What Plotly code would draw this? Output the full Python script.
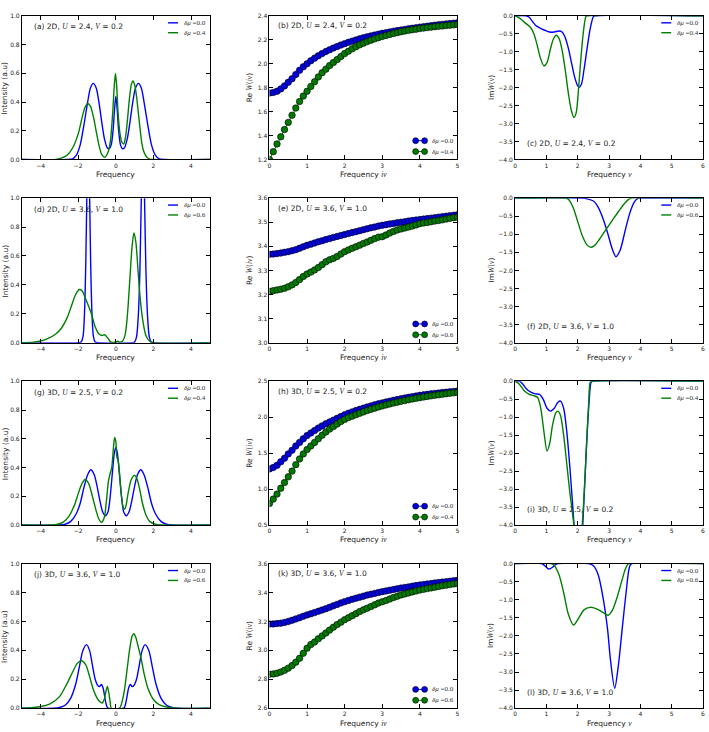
import plotly.graph_objects as go

W, H = 709, 732

# ---------------- Column 1: spectral functions (Intensity vs Frequency) ----------------
a_blue_x = [-5, -2.6, -2.3, -2.1, -1.9, -1.7, -1.5, -1.35, -1.2, -1.05, -0.9, -0.75, -0.6, -0.45, -0.35, -0.25, -0.15, -0.07, 0.0,
            0.07, 0.15, 0.25, 0.35, 0.45, 0.6, 0.75, 0.9, 1.05, 1.2, 1.35, 1.5, 1.7, 1.9, 2.1, 2.3, 2.6, 5]
a_blue_y = [0, 0, 0.005, 0.03, 0.1, 0.24, 0.4, 0.5, 0.53, 0.5, 0.4, 0.26, 0.14, 0.08, 0.075, 0.1, 0.2, 0.35, 0.44,
            0.35, 0.2, 0.1, 0.075, 0.08, 0.14, 0.26, 0.4, 0.5, 0.53, 0.5, 0.4, 0.24, 0.1, 0.03, 0.005, 0, 0]
a_green_x = [-5, -3.2, -2.9, -2.6, -2.3, -2.0, -1.8, -1.65, -1.5, -1.35, -1.2, -1.05, -0.9, -0.75, -0.6, -0.45, -0.3, -0.18, -0.08,
             -0.02, 0.04, 0.12, 0.22, 0.32, 0.42, 0.52, 0.62, 0.72, 0.82, 0.91, 1.0, 1.1, 1.2, 1.3, 1.4, 1.5, 1.65, 1.8, 2.0, 5]
a_green_y = [0, 0, 0.01, 0.03, 0.08, 0.18, 0.29, 0.36, 0.39, 0.37, 0.3, 0.2, 0.1, 0.035, 0.015, 0.04, 0.12, 0.3, 0.52,
             0.6, 0.52, 0.32, 0.18, 0.12, 0.108, 0.16, 0.28, 0.42, 0.52, 0.547, 0.52, 0.44, 0.32, 0.2, 0.1, 0.05, 0.015, 0.003, 0, 0]

d_blue_x = [-5, -2.0, -1.85, -1.75, -1.67, -1.6, -1.54, -1.47, -1.4, -1.34, -1.27, -1.19, -1.1, -0.9,
            0.9, 1.0, 1.1, 1.2, 1.28, 1.34, 1.44, 1.54, 1.6, 1.68, 1.78, 1.88, 2.0, 5]
d_blue_y = [0, 0, 0.005, 0.04, 0.2, 0.55, 1.05, 1.5, 1.05, 0.55, 0.2, 0.04, 0.005, 0,
            0, 0.005, 0.04, 0.2, 0.5, 0.9, 1.5, 0.9, 0.5, 0.2, 0.04, 0.005, 0, 0]
d_green_x = [-5, -4.4, -4.0, -3.6, -3.2, -2.9, -2.6, -2.35, -2.15, -1.95, -1.8, -1.6, -1.3, -1.1, -0.9, -0.75, -0.6, -0.45,
             -0.3, -0.15, 0.0, 0.1, 0.2, 0.35, 0.5, 0.62, 0.75, 0.86, 0.96, 1.06, 1.18, 1.3, 1.45, 1.6, 1.8, 2.0, 5]
d_green_y = [0, 0.003, 0.012, 0.03, 0.06, 0.1, 0.17, 0.26, 0.33, 0.368, 0.36, 0.3, 0.2, 0.11, 0.06, 0.05, 0.055, 0.035,
             0.008, 0.002, 0.005, 0.01, 0.004, 0.01, 0.06, 0.2, 0.45, 0.66, 0.76, 0.7, 0.5, 0.3, 0.14, 0.05, 0.01, 0, 0]

g_blue_x = [-5, -3.0, -2.7, -2.4, -2.1, -1.9, -1.7, -1.5, -1.33, -1.15, -1.0, -0.85, -0.7, -0.56, -0.42, -0.3, -0.18, -0.08, 0.0,
            0.08, 0.18, 0.3, 0.42, 0.56, 0.7, 0.85, 1.0, 1.15, 1.33, 1.5, 1.7, 1.9, 2.1, 2.4, 2.7, 3.0, 5]
g_blue_y = [0, 0, 0.005, 0.025, 0.08, 0.15, 0.26, 0.35, 0.385, 0.35, 0.27, 0.17, 0.09, 0.064, 0.09, 0.2, 0.37, 0.5, 0.54,
            0.5, 0.37, 0.2, 0.09, 0.064, 0.09, 0.17, 0.27, 0.35, 0.385, 0.35, 0.26, 0.15, 0.08, 0.025, 0.005, 0, 0]
g_green_x = [-5, -3.4, -3.1, -2.8, -2.5, -2.2, -2.0, -1.8, -1.64, -1.45, -1.25, -1.05, -0.9, -0.76, -0.62, -0.5, -0.4, -0.32, -0.22,
             -0.12, -0.06, 0.0, 0.06, 0.12, 0.2, 0.3, 0.4, 0.47, 0.55, 0.65, 0.8, 0.92, 1.0, 1.1, 1.25, 1.4, 1.6, 1.8, 2.1, 2.4, 5]
g_green_y = [0, 0, 0.005, 0.02, 0.06, 0.14, 0.22, 0.29, 0.317, 0.29, 0.2, 0.1, 0.04, 0.018, 0.05, 0.17, 0.3, 0.35, 0.4,
             0.55, 0.61, 0.58, 0.47, 0.45, 0.35, 0.2, 0.12, 0.11, 0.14, 0.22, 0.31, 0.34, 0.345, 0.33, 0.26, 0.16, 0.07, 0.025, 0.005, 0, 0]

j_blue_x = [-5, -3.3, -3.0, -2.7, -2.4, -2.15, -1.95, -1.75, -1.56, -1.4, -1.25, -1.1, -0.95, -0.87, -0.77, -0.68, -0.58, -0.5, -0.42,
            0.42, 0.5, 0.58, 0.68, 0.77, 0.87, 0.95, 1.1, 1.25, 1.4, 1.56, 1.75, 1.95, 2.15, 2.4, 2.7, 3.0, 3.3, 5]
j_blue_y = [0, 0, 0.005, 0.02, 0.07, 0.16, 0.28, 0.4, 0.44, 0.4, 0.3, 0.2, 0.155, 0.15, 0.164, 0.14, 0.07, 0.02, 0.0,
            0.0, 0.02, 0.07, 0.14, 0.164, 0.15, 0.155, 0.2, 0.3, 0.4, 0.44, 0.4, 0.28, 0.16, 0.07, 0.02, 0.005, 0, 0]
j_green_x = [-5, -4.5, -4.0, -3.5, -3.0, -2.6, -2.3, -2.05, -1.83, -1.6, -1.4, -1.2, -1.0, -0.85, -0.73, -0.62, -0.52, -0.45, -0.38,
             -0.3, -0.24, 0.2, 0.3, 0.45, 0.6, 0.75, 0.87, 0.96, 1.06, 1.2, 1.35, 1.5, 1.7, 2.0, 2.3, 2.7, 3.2, 5]
j_green_y = [0, 0.003, 0.012, 0.03, 0.08, 0.17, 0.25, 0.31, 0.328, 0.3, 0.22, 0.13, 0.07, 0.045, 0.036, 0.06, 0.12, 0.15, 0.11,
             0.04, 0.0, 0.0, 0.03, 0.12, 0.27, 0.42, 0.5, 0.515, 0.49, 0.42, 0.34, 0.24, 0.14, 0.06, 0.025, 0.008, 0, 0]

# ---------------- Column 2: Re W(i nu) on Matsubara frequencies ----------------
nu_m = [0.0, 0.1, 0.2, 0.3, 0.4, 0.5, 0.6, 0.7, 0.8, 0.9, 1.0, 1.1, 1.2, 1.3, 1.4, 1.5, 1.6, 1.7, 1.8, 1.9,
        2.0, 2.1, 2.2, 2.3, 2.4, 2.5, 2.6, 2.7, 2.8, 2.9, 3.0, 3.1, 3.2, 3.3, 3.4, 3.5, 3.6, 3.7, 3.8, 3.9,
        4.0, 4.1, 4.2, 4.3, 4.4, 4.5, 4.6, 4.7, 4.8, 4.9, 5.0]

b_blue = [1.755, 1.76, 1.77, 1.79, 1.815, 1.845, 1.875, 1.91, 1.945, 1.975, 2.0,
          2.025, 2.047, 2.067, 2.085, 2.102, 2.117, 2.131, 2.144, 2.156, 2.168,
          2.179, 2.189, 2.199, 2.208, 2.217, 2.225, 2.233, 2.24, 2.247, 2.254,
          2.26, 2.266, 2.272, 2.277, 2.282, 2.287, 2.292, 2.297, 2.301, 2.306,
          2.31, 2.314, 2.318, 2.322, 2.326, 2.329, 2.333, 2.336, 2.339, 2.342]
b_green = [1.2, 1.265, 1.33, 1.39, 1.45, 1.51, 1.57, 1.63, 1.685, 1.73, 1.77,
           1.81, 1.85, 1.89, 1.925, 1.955, 1.985, 2.01, 2.035, 2.06, 2.085,
           2.105, 2.125, 2.142, 2.158, 2.172, 2.185, 2.197, 2.208, 2.218, 2.228,
           2.237, 2.245, 2.253, 2.26, 2.267, 2.273, 2.279, 2.284, 2.289, 2.294,
           2.298, 2.302, 2.306, 2.31, 2.313, 2.316, 2.319, 2.322, 2.325, 2.328]

e_blue = [3.367, 3.368, 3.37, 3.372, 3.375, 3.378, 3.382, 3.386, 3.392, 3.398, 3.404,
          3.409, 3.414, 3.419, 3.423, 3.428, 3.432, 3.437, 3.441, 3.445, 3.449,
          3.453, 3.457, 3.461, 3.465, 3.469, 3.473, 3.477, 3.48, 3.484, 3.487,
          3.49, 3.493, 3.495, 3.498, 3.5, 3.502, 3.505, 3.507, 3.509, 3.511,
          3.513, 3.515, 3.517, 3.519, 3.521, 3.523, 3.525, 3.527, 3.529, 3.531]
e_green = [3.213, 3.216, 3.219, 3.222, 3.226, 3.232, 3.24, 3.25, 3.262, 3.275, 3.285,
           3.293, 3.302, 3.312, 3.324, 3.336, 3.344, 3.35, 3.358, 3.368, 3.378,
           3.385, 3.392, 3.398, 3.405, 3.412, 3.418, 3.425, 3.432, 3.438, 3.44,
           3.447, 3.455, 3.462, 3.468, 3.472, 3.476, 3.48, 3.484, 3.489, 3.494,
           3.497, 3.499, 3.502, 3.505, 3.507, 3.51, 3.513, 3.516, 3.519, 3.521]

h_blue = [1.28, 1.3, 1.33, 1.38, 1.43, 1.49, 1.54, 1.6, 1.65, 1.7, 1.745,
          1.78, 1.815, 1.85, 1.88, 1.91, 1.935, 1.96, 1.985, 2.01, 2.035,
          2.055, 2.075, 2.093, 2.11, 2.127, 2.143, 2.158, 2.173, 2.187, 2.2,
          2.212, 2.224, 2.236, 2.247, 2.258, 2.268, 2.278, 2.287, 2.296, 2.305,
          2.312, 2.319, 2.326, 2.332, 2.338, 2.344, 2.35, 2.355, 2.36, 2.365]
h_green = [0.8, 0.86, 0.93, 1.01, 1.09, 1.17, 1.25, 1.34, 1.42, 1.49, 1.55,
           1.6, 1.65, 1.7, 1.75, 1.795, 1.835, 1.87, 1.905, 1.94, 1.97,
           1.995, 2.015, 2.035, 2.055, 2.075, 2.093, 2.11, 2.127, 2.143, 2.158,
           2.172, 2.185, 2.198, 2.21, 2.222, 2.233, 2.244, 2.254, 2.264, 2.273,
           2.282, 2.29, 2.298, 2.306, 2.313, 2.32, 2.327, 2.334, 2.34, 2.346]

k_blue = [3.182, 3.183, 3.185, 3.188, 3.193, 3.2, 3.208, 3.217, 3.226, 3.236, 3.245,
          3.253, 3.261, 3.27, 3.279, 3.288, 3.298, 3.308, 3.318, 3.328, 3.337,
          3.345, 3.353, 3.361, 3.368, 3.375, 3.382, 3.388, 3.394, 3.4, 3.406,
          3.411, 3.416, 3.421, 3.426, 3.431, 3.435, 3.439, 3.444, 3.448, 3.452,
          3.455, 3.459, 3.462, 3.466, 3.469, 3.472, 3.475, 3.478, 3.481, 3.484]
k_green = [2.835, 2.837, 2.842, 2.85, 2.862, 2.877, 2.895, 2.918, 2.945, 2.98, 3.015,
           3.04, 3.058, 3.08, 3.1, 3.12, 3.14, 3.16, 3.178, 3.195, 3.212,
           3.226, 3.24, 3.254, 3.268, 3.28, 3.292, 3.303, 3.315, 3.327, 3.336,
           3.345, 3.355, 3.365, 3.374, 3.383, 3.39, 3.397, 3.404, 3.411, 3.417,
           3.422, 3.427, 3.432, 3.437, 3.442, 3.447, 3.451, 3.455, 3.459, 3.463]

# ---------------- Column 3: Im W(nu) on real frequencies ----------------
c_blue_x = [0, 0.35, 0.45, 0.55, 0.65, 0.8, 0.95, 1.1, 1.25, 1.4, 1.5, 1.6, 1.7, 1.8, 1.9, 2.0, 2.05, 2.12, 2.2, 2.3, 2.4, 2.5, 2.55, 6]
c_blue_y = [0, 0, -0.04, -0.15, -0.26, -0.34, -0.4, -0.45, -0.45, -0.42, -0.45, -0.6, -0.9, -1.3, -1.7, -1.95, -1.99, -1.9, -1.5, -0.9, -0.35, -0.02, 0, 0]
c_green_x = [0, 0.1, 0.2, 0.3, 0.4, 0.5, 0.6, 0.7, 0.8, 0.92, 1.02, 1.12, 1.22, 1.31, 1.4, 1.5, 1.6, 1.7, 1.8, 1.88, 1.95, 2.02, 2.1, 2.18, 2.26, 2.3, 6]
c_green_y = [0, -0.04, -0.1, -0.18, -0.25, -0.33, -0.5, -0.8, -1.15, -1.39, -1.3, -0.95, -0.65, -0.54, -0.62, -0.95, -1.5, -2.15, -2.65, -2.83, -2.7, -2.1, -1.2, -0.45, -0.02, 0, 0]

f_blue_x = [0, 2.1, 2.3, 2.5, 2.65, 2.8, 2.95, 3.1, 3.22, 3.35, 3.5, 3.65, 3.8, 3.92, 4.0, 6]
f_blue_y = [0, 0, -0.02, -0.08, -0.25, -0.55, -0.95, -1.4, -1.62, -1.45, -0.95, -0.45, -0.12, -0.01, 0, 0]
f_green_x = [0, 1.6, 1.7, 1.85, 2.0, 2.15, 2.3, 2.43, 2.55, 2.7, 2.9, 3.1, 3.3, 3.5, 3.65, 3.72, 6]
f_green_y = [0, 0, -0.03, -0.25, -0.65, -1.05, -1.3, -1.36, -1.3, -1.13, -0.87, -0.62, -0.37, -0.14, -0.02, 0, 0]

i_blue_x = [0, 0.15, 0.25, 0.35, 0.5, 0.65, 0.78, 0.9, 1.02, 1.13, 1.25, 1.37, 1.45, 1.55, 1.65, 1.75, 1.85, 1.95, 2.04,
            2.12, 2.2, 2.28, 2.36, 2.43, 2.48, 6]
i_blue_y = [0, 0, -0.08, -0.2, -0.3, -0.35, -0.36, -0.5, -0.75, -0.83, -0.75, -0.58, -0.55, -0.75, -1.4, -2.4, -3.6, -4.8, -5.3,
            -4.6, -3.3, -1.8, -0.6, -0.02, 0, 0]
i_green_x = [0, 0.1, 0.2, 0.3, 0.45, 0.6, 0.72, 0.82, 0.92, 1.02, 1.1, 1.2, 1.3, 1.37, 1.45, 1.55, 1.65, 1.75, 1.85, 1.95, 2.03,
             2.1, 2.2, 2.28, 2.35, 2.4, 2.45, 6]
i_green_y = [0, -0.05, -0.15, -0.27, -0.36, -0.4, -0.45, -0.75, -1.4, -1.94, -1.75, -1.2, -0.88, -0.83, -0.95, -1.5, -2.3, -3.1, -3.8, -4.6, -5.0,
             -4.5, -3.2, -1.8, -0.6, -0.02, 0, 0]

l_blue_x = [0, 0.85, 0.95, 1.08, 1.2, 1.3, 1.38, 2.35, 2.5, 2.65, 2.8, 2.95, 3.05, 3.18, 3.3, 3.42, 3.55, 3.65, 3.72, 6]
l_blue_y = [0, 0, -0.06, -0.15, -0.1, -0.02, 0, 0, -0.06, -0.3, -0.9, -1.8, -2.7, -3.45, -2.8, -1.8, -0.75, -0.1, 0, 0]
l_green_x = [0, 1.15, 1.25, 1.4, 1.55, 1.7, 1.87, 2.0, 2.2, 2.39, 2.6, 2.8, 2.97, 3.1, 3.25, 3.4, 3.52, 3.6, 3.65, 6]
l_green_y = [0, 0, -0.05, -0.3, -0.8, -1.4, -1.7, -1.55, -1.28, -1.21, -1.25, -1.35, -1.43, -1.3, -0.95, -0.5, -0.15, -0.02, 0, 0]

# ---------------- panel texts ----------------
panel_letters = [["a", "b", "c"], ["d", "e", "f"], ["g", "h", "i"], ["j", "k", "l"]]
row_dims = ["2D", "2D", "3D", "3D"]
row_U = ["2.4", "3.6", "2.5", "3.6"]
row_V = ["0.2", "1.0", "0.2", "1.0"]
row_dmu = [["0.0", "0.4"], ["0.0", "0.6"], ["0.0", "0.4"], ["0.0", "0.6"]]

spec = {"a": (a_blue_x, a_blue_y, a_green_x, a_green_y), "d": (d_blue_x, d_blue_y, d_green_x, d_green_y),
        "g": (g_blue_x, g_blue_y, g_green_x, g_green_y), "j": (j_blue_x, j_blue_y, j_green_x, j_green_y)}
rew = {"b": (b_blue, b_green, [1.2, 2.4], 0.2), "e": (e_blue, e_green, [3.0, 3.6], 0.1),
       "h": (h_blue, h_green, [0.5, 2.5], 0.5), "k": (k_blue, k_green, [2.6, 3.6], 0.2)}
imw = {"c": (c_blue_x, c_blue_y, c_green_x, c_green_y), "f": (f_blue_x, f_blue_y, f_green_x, f_green_y),
       "i": (i_blue_x, i_blue_y, i_green_x, i_green_y), "l": (l_blue_x, l_blue_y, l_green_x, l_green_y)}

BLUE = "#0000ff"
GREEN = "#008000"
MBLUE = "#0000e0"
MGREEN = "#007a00"

cols_px = [(20, 209), (269, 458), (516, 705)]
rows_px = [(12, 157), (196, 342), (381, 526), (565, 711)]


def M(s):
    return "<span style='font-family:Liberation Serif'><i>" + s + "</i></span>"


def px(x):
    return x / W


def py(y):
    return 1 - y / H


fig = go.Figure()
layout = dict(width=W, height=H, margin=dict(l=0, r=0, t=0, b=0),
              paper_bgcolor="white", plot_bgcolor="white", showlegend=False,
              font=dict(family="DejaVu Sans", size=6, color="#222222"))
annotations = []
shapes = []

n = 0
for r in range(4):
    for c in range(3):
        n += 1
        letter = panel_letters[r][c]
        xs = "" if n == 1 else str(n)
        xref, yref = "x" + xs, "y" + xs
        x0p, x1p = cols_px[c]
        y0p, y1p = rows_px[r]
        common = dict(ticks="inside", ticklen=4, tickwidth=0.8, tickcolor="black", mirror="allticks",
                      showline=True, linecolor="black", linewidth=1, showgrid=False, zeroline=False,
                      tickfont=dict(size=6, color="#222222"))
        if c == 0:
            xr, xdt, yr, ydt = [-5, 5], 2, [0, 1], 0.2
            bx, by, gx, gy = spec[letter]
        elif c == 1:
            bv, gv, yr, ydt = rew[letter]
            xr, xdt = [0, 5], 1
            bx, by, gx, gy = nu_m, bv, nu_m, gv
        else:
            xr, xdt, yr, ydt = [0, 6], 1, [-4, 0], 0.5
            bx, by, gx, gy = imw[letter]
        layout["xaxis" + xs] = dict(domain=[px(x0p), px(x1p)], anchor=yref, range=xr, dtick=xdt, tick0=0, **common)
        layout["yaxis" + xs] = dict(domain=[py(y1p), py(y0p)], anchor=xref, range=yr, dtick=ydt, tick0=yr[0],
                                    tickformat=".1f", **common)
        if c == 1:
            for yy, lc, mc in ((by, BLUE, MBLUE), (gy, GREEN, MGREEN)):
                fig.add_trace(go.Scatter(x=bx, y=yy, mode="lines+markers", xaxis=xref, yaxis=yref,
                                         line=dict(color=lc, width=1),
                                         marker=dict(size=6.5, color=mc, line=dict(color="black", width=0.6))))
        else:
            fig.add_trace(go.Scatter(x=bx, y=by, mode="lines", xaxis=xref, yaxis=yref,
                                     line=dict(color=BLUE, width=1.4, shape="spline", smoothing=0.8)))
            fig.add_trace(go.Scatter(x=gx, y=gy, mode="lines", xaxis=xref, yaxis=yref,
                                     line=dict(color=GREEN, width=1.4, shape="spline", smoothing=0.8)))

        # panel label
        label = "(" + letter + ") " + row_dims[r] + ", " + M("U") + " = " + row_U[r] + ", " + M("V") + " = " + row_V[r]
        if c == 0:
            lx, ly = 30, y0p + 11
        elif c == 1:
            lx, ly = 276, y0p + 10
        else:
            lx, ly = 526, y1p - 16
        annotations.append(dict(text=label, x=px(lx), y=py(ly), xref="paper", yref="paper", xanchor="left",
                                yanchor="middle", showarrow=False, font=dict(size=7.5, color="#222222")))

        # axis titles
        cx = (x0p + x1p) / 2
        cyy = (y0p + y1p) / 2
        if c == 0:
            xt, yt, ytx = "Frequency", "Intensity (a.u)", 3
        elif c == 1:
            xt, yt, ytx = "Frequency " + M("iν"), "Re " + M("W") + "(" + M("iν") + ")", 249
        else:
            xt, yt, ytx = "Frequency " + M("ν"), "Im" + M("W") + "(" + M("ν") + ")", 492
        annotations.append(dict(text=xt, x=px(cx), y=py(y1p + 15), xref="paper", yref="paper", xanchor="center",
                                yanchor="middle", showarrow=False, font=dict(size=7.5, color="#222222")))
        annotations.append(dict(text=yt, x=px(ytx), y=py(cyy), xref="paper", yref="paper", xanchor="center",
                                yanchor="middle", showarrow=False, textangle=-90, font=dict(size=7.5, color="#222222")))

        # legend (drawn in-panel)
        dm = row_dmu[r]
        if c == 1:
            ly1, ly2 = y1p - 19, y1p - 8
            for yy, mc, lc, val in ((ly1, MBLUE, BLUE, dm[0]), (ly2, MGREEN, GREEN, dm[1])):
                shapes.append(dict(type="line", xref="paper", yref="paper", x0=px(416), x1=px(425), y0=py(yy), y1=py(yy),
                                   line=dict(color=lc, width=1)))
                for mx in (416, 425):
                    shapes.append(dict(type="circle", xref="paper", yref="paper", x0=px(mx - 3), x1=px(mx + 3),
                                       y0=py(yy + 3), y1=py(yy - 3), fillcolor=mc, line=dict(color="black", width=0.6)))
                annotations.append(dict(text=M("δμ") + " =" + val, x=px(430), y=py(yy), xref="paper", yref="paper",
                                        xanchor="left", yanchor="middle", showarrow=False,
                                        font=dict(size=7, family="Liberation Serif", color="#333333")))
        else:
            lx0 = 167 if c == 0 else 663
            ly1, ly2 = y0p + 7, y0p + 17
            for yy, lc, val in ((ly1, BLUE, dm[0]), (ly2, GREEN, dm[1])):
                shapes.append(dict(type="line", xref="paper", yref="paper", x0=px(lx0), x1=px(lx0 + 10), y0=py(yy), y1=py(yy),
                                   line=dict(color=lc, width=1.4)))
                annotations.append(dict(text=M("δμ") + " =" + val, x=px(lx0 + 14), y=py(yy), xref="paper", yref="paper",
                                        xanchor="left", yanchor="middle", showarrow=False,
                                        font=dict(size=7, family="Liberation Serif", color="#333333")))

layout["annotations"] = annotations
layout["shapes"] = shapes
fig.update_layout(**layout)
fig.write_html("out.html")
